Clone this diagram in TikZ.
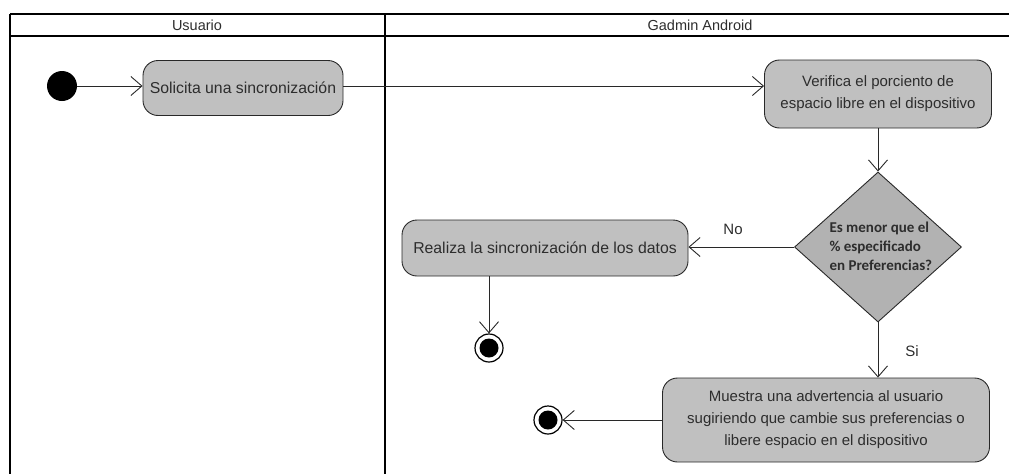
\documentclass[tikz,border=0pt]{standalone}
\usepackage{fontspec}
\setmainfont{Liberation Sans}
\newfontfamily\calfont{Carlito}
\usetikzlibrary{arrows.meta,shapes.geometric}
\definecolor{actfill}{RGB}{192,192,192}
\definecolor{decfill}{RGB}{178,178,178}
\definecolor{linec}{RGB}{40,40,40}
\definecolor{txtc}{RGB}{45,45,45}
\tikzset{
  lane/.style={line width=2.2pt,draw=black},
  act/.style={draw=linec,line width=0.9pt,fill=actfill,rounded corners=15pt,inner sep=3pt,align=center,text=txtc},
  flow/.style={draw=linec,line width=0.9pt,-{Straight Barb[length=11pt,width=19pt,line width=0.9pt]}},
  lbl/.style={font=\fontsize{15}{17}\selectfont,text=txtc},
}
\begin{document}
\begin{tikzpicture}[x=1pt,y=-1pt]
\useasboundingbox (0,0) rectangle (1009,474);
% swimlanes
\draw[lane] (10,14) -- (1009,14);
\draw[lane] (10,36) -- (1009,36);
\draw[lane] (10,14) -- (10,474);
\draw[lane] (385,14) -- (385,474);
\node[font=\fontsize{14.5}{16}\selectfont,text=txtc] (h1) at (197,25) {Usuario};
\node[font=\fontsize{14.5}{16}\selectfont,text=txtc] (h2) at (700,25) {Gadmin Android};
% nodes
\node[circle,fill=black,minimum size=30pt,inner sep=0] (init) at (62,86) {};
\node[act,font=\fontsize{15.8}{20}\selectfont,minimum width=200pt,minimum height=55pt] (sol) at (243,88) {Solicita una sincronización};
\node[act,font=\fontsize{15}{22}\selectfont,minimum width=227pt,minimum height=68pt] (ver) at (878,94) {Verifica el porciento de\\espacio libre en el dispositivo};
\node[diamond,draw=linec,line width=0.9pt,fill=decfill,minimum width=167pt,minimum height=150pt,inner sep=0] (dec) at (878,247) {};
\node[align=left,font=\calfont\bfseries\fontsize{15}{19}\selectfont,text=txtc,anchor=west] (dtext) at (826,246) {Es menor que el\\\% especificado\\en Preferencias?};
\node[act,font=\fontsize{15.8}{20}\selectfont,minimum width=286pt,minimum height=56pt] (rea) at (545,248) {Realiza la sincronización de los datos};
\node[act,font=\fontsize{15}{22}\selectfont,minimum width=327pt,minimum height=84pt] (mue) at (826,420) {Muestra una advertencia al usuario\\sugiriendo que cambie sus preferencias o\\libere espacio en el dispositivo};
\node[circle,draw=black,line width=1.2pt,minimum size=28pt,inner sep=0] (fin1) at (489,348) {};
\node[circle,fill=black,minimum size=19pt,inner sep=0] (fin1c) at (489,348) {};
\node[circle,draw=black,line width=1.2pt,minimum size=28pt,inner sep=0] (fin2) at (548,420) {};
\node[circle,fill=black,minimum size=19pt,inner sep=0] (fin2c) at (548,420) {};
% flows
\draw[flow] (init.east) -- (init.east -| sol.west);
\draw[flow] (sol.east |- init.east) -- (init.east -| ver.west);
\draw[flow] (ver) -- (dec.north);
\draw[flow] (dec.west) -- (dec.west -| rea.east);
\draw[flow] (rea.south -| fin1) -- (fin1.north);
\draw[flow] (dec.south) -- (mue.north -| dec.south);
\draw[flow] (mue.west) -- (fin2.east);
\node[lbl] (no) at (733,229) {No};
\node[lbl] (si) at (912,351) {Si};
\end{tikzpicture}
\end{document}
